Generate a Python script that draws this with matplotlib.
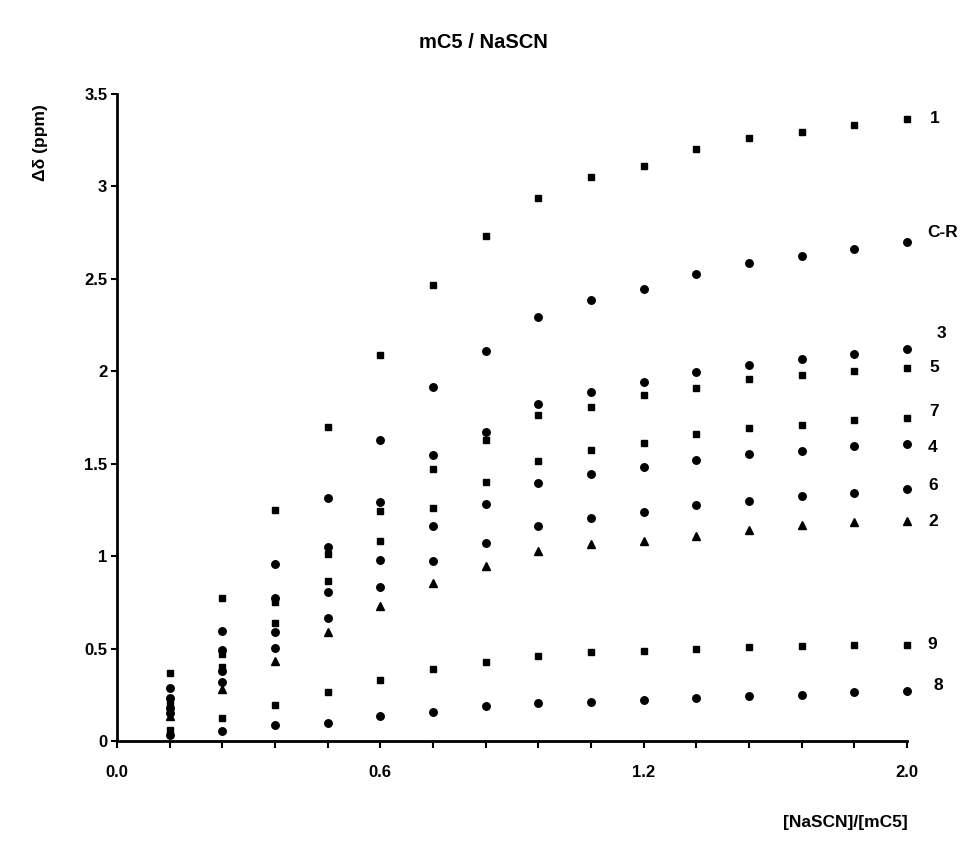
import matplotlib
matplotlib.use("Agg")
import matplotlib.pyplot as plt
import numpy as np

plt.rcParams['font.family'] = ['Liberation Sans', 'DejaVu Sans']

# category positions (ratio [NaSCN]/[mC5] steps)
categories = list(range(1, 16))
tick_positions = [0, 5, 10, 15]
tick_labels = ["0.0", "0.6", "1.2", "2.0"]

s1 = [0.37, 0.775, 1.25, 1.70, 2.09, 2.465, 2.73, 2.94, 3.05, 3.11, 3.20, 3.26, 3.295, 3.335, 3.365]
sCR = [0.285, 0.596, 0.96, 1.313, 1.627, 1.915, 2.11, 2.294, 2.384, 2.443, 2.524, 2.584, 2.623, 2.663, 2.70]
s3 = [0.23, 0.49, 0.776, 1.047, 1.295, 1.545, 1.67, 1.822, 1.89, 1.942, 1.997, 2.034, 2.065, 2.092, 2.123]
s5 = [0.22, 0.47, 0.75, 1.01, 1.245, 1.474, 1.63, 1.763, 1.809, 1.87, 1.908, 1.957, 1.978, 2.002, 2.02]
s7 = [0.19, 0.40, 0.638, 0.863, 1.08, 1.263, 1.40, 1.515, 1.573, 1.611, 1.663, 1.692, 1.708, 1.736, 1.745]
s4 = [0.18, 0.38, 0.587, 0.807, 0.978, 1.164, 1.284, 1.395, 1.443, 1.481, 1.522, 1.551, 1.569, 1.596, 1.605]
s6 = [0.15, 0.317, 0.503, 0.668, 0.834, 0.975, 1.073, 1.164, 1.209, 1.24, 1.279, 1.299, 1.323, 1.344, 1.362]
s2 = [0.135, 0.28, 0.434, 0.587, 0.731, 0.857, 0.947, 1.027, 1.067, 1.082, 1.11, 1.141, 1.168, 1.182, 1.191]
s9 = [0.06, 0.123, 0.196, 0.263, 0.33, 0.389, 0.425, 0.461, 0.483, 0.488, 0.497, 0.506, 0.515, 0.521, 0.521]
s8 = [0.035, 0.056, 0.086, 0.10, 0.137, 0.155, 0.187, 0.205, 0.212, 0.222, 0.232, 0.242, 0.25, 0.266, 0.272]

series_names = ["1", "C-R", "3", "5", "7", "4", "6", "2", "9", "8"]
series_values = [s1, sCR, s3, s5, s7, s4, s6, s2, s9, s8]
markers = ['s', 'o', 'o', 's', 's', 'o', 'o', '^', 's', 'o']
# label offsets in pixels from the last point
label_offsets = [(23, 0), (20, 9), (30, 15), (22, 0), (22, 7), (21, -3), (21, 4), (21, -1), (20, 0), (27, 5)]

fig = plt.figure(figsize=(9.65, 8.43), dpi=100)
ax = fig.add_axes([117/965, 1-741/843, (907-117)/965, (741-94)/843])

for name, vals, mk, off in zip(series_names, series_values, markers, label_offsets):
    ms = 5.0 if mk == 's' else (5.4 if mk == 'o' else 5.6)
    ax.plot(categories, vals, linestyle='none', marker=mk, color='black',
            markersize=ms, clip_on=False)
    ax.annotate(name, xy=(categories[-1], vals[-1]), xytext=off,
                textcoords='offset pixels', ha='left', va='center',
                fontsize=12.5, fontweight='bold')

ax.set_xlim(0, 15)
ax.set_ylim(0, 3.5)
ax.set_xticks(tick_positions)
ax.set_xticklabels(tick_labels)
ax.set_xticks(categories, minor=True)
ax.set_yticks(np.arange(0, 3.51, 0.5))
ax.set_yticklabels(["0", "0.5", "1", "1.5", "2", "2.5", "3", "3.5"])

for s in ['top', 'right']:
    ax.spines[s].set_visible(False)
for s in ['left', 'bottom']:
    ax.spines[s].set_linewidth(2.0)

ax.tick_params(axis='x', which='major', direction='out', length=5, width=1.5,
               pad=12, labelsize=12)
ax.tick_params(axis='x', which='minor', direction='out', length=5, width=1.5)
ax.tick_params(axis='y', which='major', direction='out', length=4, width=1.5,
               pad=3, labelsize=12)
for lbl in ax.get_xticklabels() + ax.get_yticklabels():
    lbl.set_fontweight('bold')

fig.text(483/965, 1-42/843, "mC5 / NaSCN", ha='center', va='center',
         fontsize=14.5, fontweight='bold')
fig.text(40/965, 1-143/843, "\u0394\u03b4 (ppm)", ha='center', va='center',
         rotation=90, fontsize=12.5, fontweight='bold')
fig.text(845/965, 1-823/843, "[NaSCN]/[mC5]", ha='center', va='center',
         fontsize=12.5, fontweight='bold')

fig.savefig("out.png", dpi=100, facecolor='white')
